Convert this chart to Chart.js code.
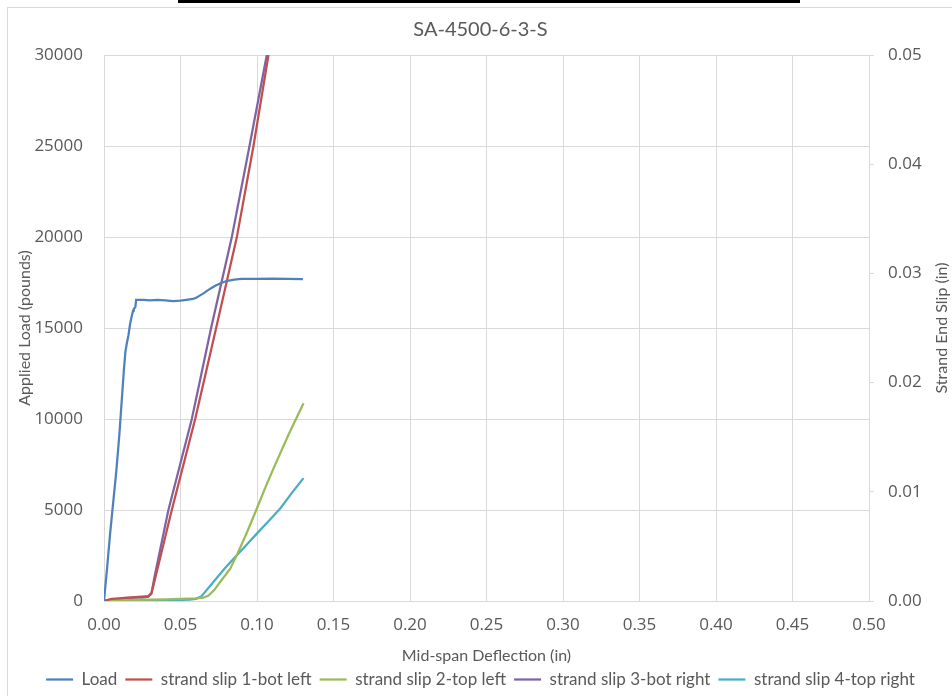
<!DOCTYPE html>
<html>
<head>
<meta charset="utf-8">
<script src="https://cdn.jsdelivr.net/npm/chart.js@4.4.0/dist/chart.umd.min.js"></script>
<style>
  body { margin: 0; background: #fff; width: 952px; height: 696px; overflow: hidden; position: relative; }
  #topbar { position: absolute; left: 178px; top: 0; width: 622px; height: 3px; background: #000; }
  #frame { position: absolute; left: 7px; top: 7px; width: 960px; height: 700px; border: 1px solid #d9d9d9; }
  #mainChart { position: absolute; left: 9px; top: 9px; }
</style>
</head>
<body>
<div id="topbar"></div>
<div id="frame"></div>
<canvas id="mainChart" width="943" height="689"></canvas>
<script>
// Mid-span deflection (in) vs applied load (pounds)
const loadX = [0, 0.002, 0.004, 0.006, 0.008, 0.010, 0.011, 0.012, 0.013, 0.014, 0.015, 0.016, 0.017, 0.018, 0.019, 0.0195, 0.020, 0.0205, 0.021, 0.023, 0.026, 0.030, 0.035, 0.040, 0.045, 0.050, 0.055, 0.058, 0.060, 0.062, 0.065, 0.068, 0.070, 0.073, 0.076, 0.080, 0.085, 0.090, 0.095, 0.100, 0.110, 0.120, 0.130];
const loadY = [0, 1800, 3700, 5400, 7100, 9100, 10300, 11500, 12700, 13700, 14200, 14600, 15200, 15600, 15950, 16050, 16100, 16150, 16550, 16550, 16540, 16520, 16550, 16520, 16480, 16500, 16560, 16600, 16650, 16750, 16900, 17080, 17180, 17330, 17450, 17580, 17660, 17700, 17700, 17700, 17710, 17700, 17690];

// strand end slip (in), right axis
const slip1X = [0, 0.005, 0.010, 0.015, 0.020, 0.025, 0.029, 0.031, 0.033, 0.0443, 0.0596, 0.0733, 0.0868, 0.0977, 0.1075];
const slip1Y = [0, 0.0002, 0.00025, 0.0003, 0.00035, 0.0004, 0.00045, 0.0007, 0.0018, 0.00833, 0.01667, 0.025, 0.0333, 0.04167, 0.05];

const slip2X = [0, 0.010, 0.020, 0.030, 0.040, 0.050, 0.060, 0.065, 0.0683, 0.072, 0.0759, 0.0825, 0.0868, 0.0935, 0.0999, 0.1055, 0.1108, 0.1205, 0.1304];
const slip2Y = [0, 0.0001, 0.0001, 0.00012, 0.00015, 0.0002, 0.00025, 0.0003, 0.0005, 0.0010, 0.00174, 0.00296, 0.0042, 0.0063, 0.00847, 0.0104, 0.01214, 0.0152, 0.0181];

const slip3X = [0, 0.005, 0.010, 0.015, 0.020, 0.025, 0.029, 0.031, 0.033, 0.0421, 0.0574, 0.070, 0.0835, 0.0951, 0.1064];
const slip3Y = [0, 0.0001, 0.0002, 0.0002, 0.0003, 0.0003, 0.0004, 0.0007, 0.0022, 0.00833, 0.01667, 0.025, 0.0333, 0.04167, 0.05];

const slip4X = [0, 0.010, 0.020, 0.030, 0.040, 0.050, 0.056, 0.060, 0.0635, 0.0715, 0.079, 0.0868, 0.0935, 0.0999, 0.1075, 0.1152, 0.1228, 0.1304];
const slip4Y = [0, 0, 0.00002, 0.00005, 0.00008, 0.0001, 0.00013, 0.0002, 0.0004, 0.00174, 0.0030, 0.0042, 0.0052, 0.00617, 0.0073, 0.00847, 0.0099, 0.01125];

const seriesNames = ['Load', 'strand slip 1-bot left', 'strand slip 2-top left', 'strand slip 3-bot right', 'strand slip 4-top right'];
const seriesColors = ['#4F81BD', '#C0504D', '#9BBB59', '#8064A2', '#4BACC6'];

function toPoints(xs, ys) {
    return xs.map((x, i) => ({ x: x, y: ys[i] }));
}

const gridColor = '#d9d9d9';
const textColor = '#595959';
Chart.defaults.font.family = 'Lato';
Chart.defaults.color = textColor;

const allSeries = [
    [loadX, loadY, 'y'],
    [slip1X, slip1Y, 'y1'],
    [slip2X, slip2Y, 'y1'],
    [slip3X, slip3Y, 'y1'],
    [slip4X, slip4Y, 'y1'],
];

const datasets = allSeries.map((s, i) => ({
    label: seriesNames[i],
    data: toPoints(s[0], s[1]),
    yAxisID: s[2],
    borderColor: seriesColors[i],
    backgroundColor: seriesColors[i],
    borderWidth: 2.25,
    pointRadius: 0,
    tension: 0,
}));

// the right axis title reads bottom to top, like the left one
const rightTitle = {
    id: 'rightTitle',
    afterDraw(chart) {
        const c = chart.ctx;
        const area = chart.chartArea;
        c.save();
        c.translate(933, (area.top + area.bottom) / 2);
        c.rotate(-Math.PI / 2);
        c.font = '16px Lato';
        c.fillStyle = textColor;
        c.textAlign = 'center';
        c.textBaseline = 'middle';
        c.fillText('Strand End Slip (in)', 0, 0);
        c.restore();
    },
};

const tickFont = { family: 'Open Sans', size: 17 };

const ctx = document.getElementById('mainChart').getContext('2d');
const chart = new Chart(ctx, {
    type: 'line',
    data: { datasets: datasets },
    plugins: [rightTitle],
    options: {
        responsive: false,
        animation: false,
        layout: { padding: { left: 0, right: 0, top: 0, bottom: 0 } },
        plugins: {
            title: {
                display: true,
                text: 'SA-4500-6-3-S',
                color: textColor,
                font: { size: 20, weight: 'normal' },
                padding: { top: 9, bottom: 13 },
            },
            legend: {
                position: 'bottom',
                labels: {
                    usePointStyle: true,
                    pointStyle: 'line',
                    pointStyleWidth: 27,
                    color: textColor,
                    font: { size: 17 },
                    padding: 8,
                },
            },
            tooltip: { enabled: false },
        },
        scales: {
            x: {
                type: 'linear',
                min: 0,
                max: 0.5,
                ticks: {
                    stepSize: 0.05,
                    font: tickFont,
                    padding: 14,
                    callback: (v) => v.toFixed(2),
                },
                grid: { color: gridColor, drawTicks: false },
                border: { color: gridColor },
                title: {
                    display: true,
                    text: 'Mid-span Deflection (in)',
                    font: { size: 16 },
                    padding: { top: 4, bottom: -2 },
                },
                afterFit: (scale) => { scale.height = 62; },
            },
            y: {
                position: 'left',
                min: 0,
                max: 30000,
                ticks: { stepSize: 5000, font: tickFont, padding: 21, callback: (v) => String(v) },
                grid: { color: gridColor, drawTicks: false },
                border: { display: false },
                title: {
                    display: true,
                    text: 'Applied Load (pounds)',
                    font: { size: 16 },
                    padding: { top: 6, bottom: 0 },
                },
                afterFit: (scale) => { scale.width = 95; },
            },
            y1: {
                position: 'right',
                min: 0,
                max: 0.05,
                ticks: {
                    stepSize: 0.01,
                    font: tickFont,
                    padding: 14,
                    callback: (v) => v.toFixed(2),
                },
                grid: { drawOnChartArea: false, color: gridColor, tickLength: 5 },
                border: { color: gridColor },
                afterFit: (scale) => { scale.width = 83; },
            },
        },
    },
});
</script>
</body>
</html>
